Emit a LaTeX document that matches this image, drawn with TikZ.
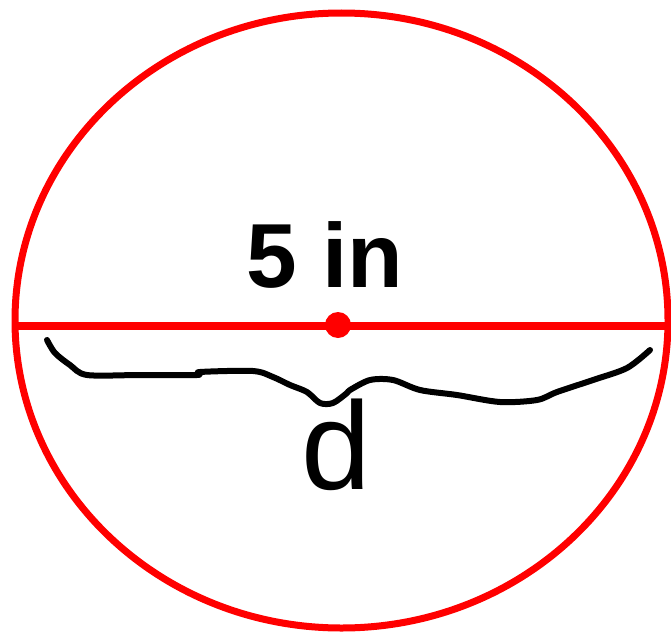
\documentclass[tikz,border=0pt]{standalone}
\usepackage{fontspec}
\newfontfamily\labelfont{Liberation Sans}
\definecolor{diaRed}{RGB}{255,0,0}

\begin{document}
\begin{tikzpicture}[x=1pt, y=-1pt,
    rim/.style={draw=diaRed, line width=7pt},
    hand/.style={draw=black, line width=6pt, line cap=round, line join=round},
    label/.style={inner sep=0pt, anchor=base, font=\labelfont}
]
\useasboundingbox (0,0) rectangle (671,634);
\draw[rim] (341.5,320.5) ellipse [x radius=326.5, y radius=307.5];
\coordinate (left) at (15,326);
\coordinate (right) at (668,326);
\coordinate (centre) at (338,325);
\draw[rim, line width=8pt] (left) -- (right);
\fill[diaRed] (centre) circle [radius=13];
\node[label, font=\labelfont\bfseries\fontsize{91}{100}\selectfont] (length) at (325,287) {5 in};
% hand drawn brace
\draw[hand] plot[smooth, tension=0.5] coordinates {(47,340) (55,353) (70,365) (87,375) (140,375) (197,375) (200,372) (253,371) (273,377) (290,385) (307,392) (320,403) (333,403) (347,393) (350,390) (370,380) (393,380) (420,390) (457,395) (500,402) (537,400) (557,392) (593,380) (627,368) (650,350)};
\node[label, font=\labelfont\fontsize{125}{130}\selectfont] (diam) at (336,489) {d};
\end{tikzpicture}
\end{document}
